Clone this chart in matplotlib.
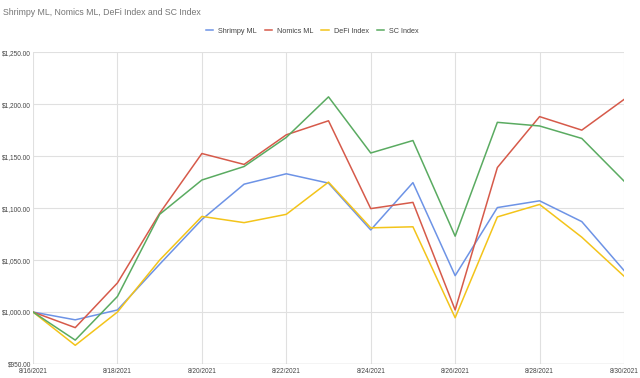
import numpy as np
import matplotlib
matplotlib.use("Agg")
import matplotlib.pyplot as plt
from matplotlib.ticker import FuncFormatter

plt.rcParams['font.family'] = ['Liberation Sans', 'DejaVu Sans']

dates = ["8/16/2021", "8/17/2021", "8/18/2021", "8/19/2021", "8/20/2021",
         "8/21/2021", "8/22/2021", "8/23/2021", "8/24/2021", "8/25/2021",
         "8/26/2021", "8/27/2021", "8/28/2021", "8/29/2021", "8/30/2021"]

shrimpy = [1000, 992.5, 1002, 1046, 1089, 1123, 1133, 1124, 1079, 1124.5,
           1035, 1100.5, 1107, 1087, 1040]
nomics = [1000, 985, 1028, 1095, 1152.5, 1142, 1170.5, 1184, 1099.5, 1105.5,
          1002, 1139, 1188, 1175, 1204.5]
defi = [1000, 968, 1000, 1050, 1092, 1086, 1094, 1125, 1081, 1082,
        994.5, 1091.5, 1103.5, 1072, 1034.5]
sc = [1000, 973, 1015, 1094, 1127, 1140, 1168, 1207, 1153, 1165,
      1073, 1182.5, 1179, 1167, 1126]

series = [("Shrimpy ML", shrimpy, "#6d93e6"),
          ("Nomics ML", nomics, "#d65a4a"),
          ("DeFi Index", defi, "#f3c41a"),
          ("SC Index", sc, "#5aab61")]

fig = plt.figure(figsize=(6.4, 3.78), dpi=100)
ax = fig.add_axes([0.0516, 0.037, 0.9234, 0.825])

x = np.arange(len(dates))
for name, vals, col in series:
    ax.plot(x, vals, color=col, lw=1.1, label=name)

ax.set_xlim(0, len(dates) - 1)
ax.set_ylim(950, 1250)
ax.set_xticks(x[::2])
ax.set_xticklabels(dates[::2])
ax.set_yticks(np.arange(950, 1251, 50))
ax.yaxis.set_major_formatter(FuncFormatter(lambda v, p: "${:,.2f}".format(v)))
ax.tick_params(length=0, labelsize=4.7, colors="#444444")
ax.tick_params(axis="y", pad=1.5)
ax.tick_params(axis="x", pad=3.2)
ax.grid(True, color="#e0e0e0", lw=0.8)
for s in ax.spines.values():
    s.set_visible(False)
ax.axhline(950, color="#bdbdbd", lw=0.9)

fig.text(0.005, 0.968, "Shrimpy ML, Nomics ML, DeFi Index and SC Index",
         fontsize=6.3, color="#757575", va="center", ha="left")
fig.legend(loc="center", bbox_to_anchor=(0.488, 0.918), ncol=4, frameon=False,
           fontsize=5.2, handlelength=1.0, handletextpad=0.7, columnspacing=1.1,
           labelcolor="#444444")

fig.savefig("out.png", dpi=100)
